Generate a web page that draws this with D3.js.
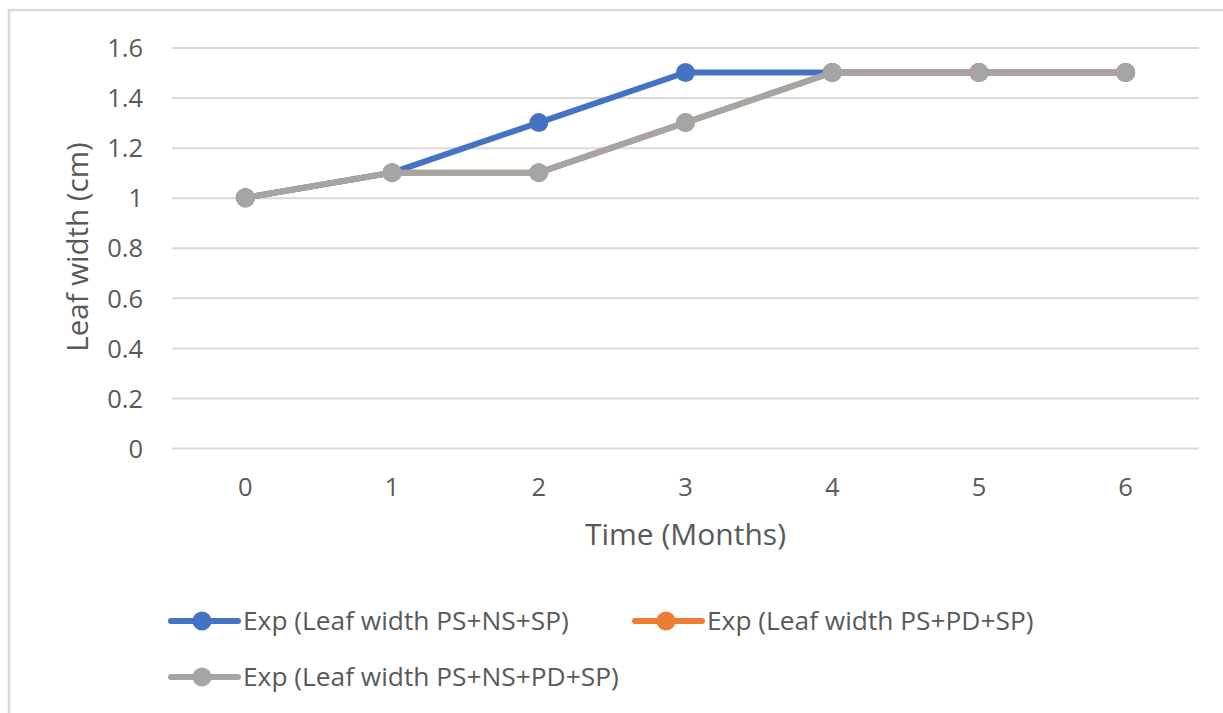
<!DOCTYPE html>
<html>
<head>
<meta charset="utf-8">
<script src="https://cdn.jsdelivr.net/npm/d3@7"></script>
<style>
  html, body { margin: 0; padding: 0; background: #fff; }
  svg { display: block; }
  text { font-family: "Open Sans", "Noto Sans", sans-serif; fill: #595959; }
</style>
</head>
<body>
<svg id="chart" width="1223" height="713"></svg>
<script>
// Leaf width over time for three treatments
const months = ["0", "1", "2", "3", "4", "5", "6"];
const psNsSp   = [1.0, 1.1, 1.3, 1.5, 1.5, 1.5, 1.5];
const psPdSp   = [1.0, 1.1, 1.1, 1.3, 1.5, 1.5, 1.5];
const psNsPdSp = [1.0, 1.1, 1.1, 1.3, 1.5, 1.5, 1.5];
const yTicks = [0, 0.2, 0.4, 0.6, 0.8, 1, 1.2, 1.4, 1.6];

const seriesNames = [
  "Exp (Leaf width PS+NS+SP)",
  "Exp (Leaf width PS+PD+SP)",
  "Exp (Leaf width PS+NS+PD+SP)"
];
const seriesColors = ["#4472C4", "#ED7D31", "#A5A5A5"];
const seriesValues = [psNsSp, psPdSp, psNsPdSp];

const svg = d3.select("#chart");

// outer chart frame (top and left edges visible)
svg.append("path")
  .attr("d", "M9,713 L9,10 L1223,10")
  .attr("fill", "none")
  .attr("stroke", "#d9d9d9")
  .attr("stroke-width", 2.5);

const plot = { left: 172, right: 1199, top: 47.5, bottom: 448 };

const x = d3.scaleBand().domain(months).range([plot.left, plot.right]);
const y = d3.scaleLinear().domain([0, 1.6]).range([plot.bottom, plot.top]);

// horizontal gridlines + y labels
const yAxis = d3.axisLeft(y).tickValues(yTicks).tickSize(0).tickPadding(0)
  .tickFormat(d => d3.format("~g")(d));
const gy = svg.append("g").attr("transform", `translate(${plot.left},0)`).call(yAxis);
gy.select(".domain").remove();
gy.selectAll(".tick text")
  .attr("x", -29)
  .attr("dy", "0.36em")
  .style("font-size", "25.5px")
  .style("fill", "#595959");
gy.selectAll(".tick").append("line")
  .attr("x1", 0).attr("x2", plot.right - plot.left)
  .attr("stroke", "#d9d9d9").attr("stroke-width", 2);

// x labels
const xAxis = d3.axisBottom(x).tickSize(0).tickPadding(0);
const gx = svg.append("g").attr("transform", `translate(0,${plot.bottom})`).call(xAxis);
gx.select(".domain").remove();
gx.selectAll(".tick text")
  .attr("y", 48)
  .attr("dy", "0")
  .style("font-size", "25.5px")
  .style("fill", "#595959");

// axis titles
svg.append("text")
  .attr("x", (plot.left + plot.right) / 2)
  .attr("y", 545)
  .attr("text-anchor", "middle")
  .style("font-size", "30px")
  .text("Time (Months)");

svg.append("text")
  .attr("transform", "translate(88,247) rotate(-90)")
  .attr("text-anchor", "middle")
  .style("font-size", "29.5px")
  .text("Leaf width (cm)");

// series lines and markers
const line = d3.line()
  .x((d, i) => x(months[i]) + x.bandwidth() / 2)
  .y(d => y(d));

seriesValues.forEach((vals, si) => {
  const g = svg.append("g");
  g.append("path")
    .datum(vals)
    .attr("d", line)
    .attr("fill", "none")
    .attr("stroke", seriesColors[si])
    .attr("stroke-width", 6)
    .attr("stroke-linejoin", "round")
    .attr("stroke-linecap", "round");
  g.selectAll("circle")
    .data(vals)
    .join("circle")
    .attr("cx", (d, i) => x(months[i]) + x.bandwidth() / 2)
    .attr("cy", d => y(d))
    .attr("r", 9.5)
    .attr("fill", seriesColors[si]);
});

// legend
const legendItems = [
  { x: 168, y: 621 },
  { x: 632, y: 621 },
  { x: 168, y: 677 }
];
legendItems.forEach((p, i) => {
  const g = svg.append("g").attr("transform", `translate(${p.x},${p.y})`);
  g.append("line")
    .attr("x1", 3).attr("x2", 70)
    .attr("stroke", seriesColors[i]).attr("stroke-width", 6)
    .attr("stroke-linecap", "round");
  g.append("circle").attr("cx", 34).attr("r", 9.5).attr("fill", seriesColors[i]);
  g.append("text")
    .attr("x", 75).attr("dy", "0.36em")
    .style("font-size", "26.3px")
    .text(seriesNames[i]);
});
</script>
</body>
</html>
